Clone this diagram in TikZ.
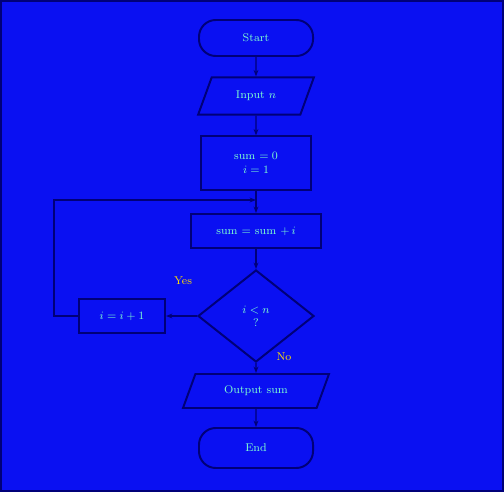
\documentclass[tikz,border=0pt]{standalone}
\usepackage{tikz}
\usetikzlibrary{shapes.geometric,arrows.meta,positioning,calc}
\usepackage{xcolor}
\definecolor{bgblue}{HTML}{0A10F2}
\definecolor{navy}{HTML}{000078}
\definecolor{glow}{HTML}{7FFFD0}

\begin{document}
\begin{tikzpicture}[x=0.025cm,y=-0.025cm,
  box/.style={rectangle, draw=navy, line width=1.4pt, minimum width=#1, minimum height=0.85cm, align=center, font=\footnotesize, text=glow},
  term/.style={box=2.85cm, rounded corners=0.42cm, minimum height=0.9cm},
  io/.style={trapezium, trapezium left angle=70, trapezium right angle=110, draw=navy, line width=1.4pt, minimum width=#1, minimum height=0.85cm, font=\footnotesize, text=glow, inner xsep=2pt},
  dec/.style={diamond, draw=navy, line width=1.4pt, minimum width=2.9cm, minimum height=2.3cm, inner sep=0pt, align=center, font=\footnotesize, text=glow},
  arr/.style={-{Stealth[length=1.6mm]}, navy, line width=1pt},
  lbl/.style={font=\footnotesize, text=yellow!80!orange}
]
  % canvas
  \fill[bgblue] (0,0) rectangle (504,492);
  \draw[navy, line width=1pt] (1,1) rectangle (503,491);

  \node[term]         (start) at (256,38)  {Start};
  \node[io=2.9cm]     (read)  at (256,96)  {Input $n$};
  \node[box=2.75cm, minimum height=1.33cm] (init) at (256,163) {sum $=0$\\$i=1$};
  \coordinate         (join)  at (256,200);
  \node[box=3.25cm]   (add)   at (256,231) {sum $=$ sum $+\,i$};
  \node[dec]          (test)  at (256,316) {$i<n$\\?};
  \node[box=2.15cm]   (inc)   at (122,316) {$i=i+1$};
  \node[io=2.6cm]     (write) at (256,391) {Output sum};
  \node[term, minimum height=1cm] (stop) at (256,448) {End};

  \draw[arr] (start) -- (read);
  \draw[arr] (read) -- (init);
  \draw[navy, line width=1pt] (init) -- (join);
  \draw[arr] (join) -- (add);
  \draw[arr] (add) -- (test);
  \draw[arr] (test) -- (inc);
  \draw[arr] (inc.west) -- ++(-24,0) |- (join);
  \draw[arr] (test) -- (write);
  \draw[arr] (write) -- (stop);

  \node[lbl] (yes) at (183,281) {Yes};
  \node[lbl] (no)  at (284,357) {No};
\end{tikzpicture}
\end{document}
